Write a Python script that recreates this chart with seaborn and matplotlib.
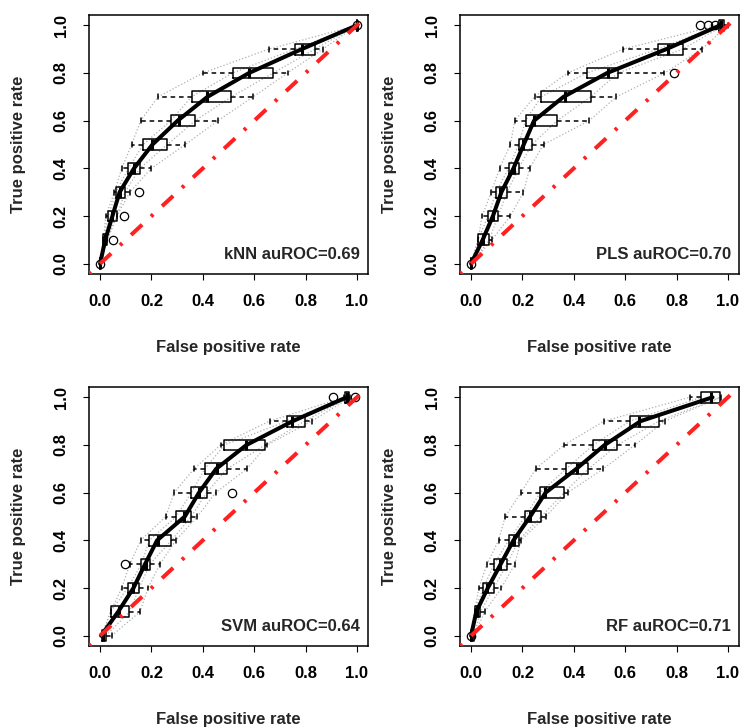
import numpy as np
import pandas as pd
import matplotlib
matplotlib.use("Agg")
import matplotlib.pyplot as plt
import seaborn as sns

sns.set_style("white")
plt.rcParams["font.family"] = ["Liberation Sans", "DejaVu Sans"]
plt.rcParams["font.weight"] = "bold"

levels = [0.0, 0.1, 0.2, 0.3, 0.4, 0.5, 0.6, 0.7, 0.8, 0.9, 1.0]
ticks = [0.0, 0.2, 0.4, 0.6, 0.8, 1.0]
tick_labels = ["0.0", "0.2", "0.4", "0.6", "0.8", "1.0"]
panel_titles = ["kNN auROC=0.69", "PLS auROC=0.70", "SVM auROC=0.64", "RF auROC=0.71"]

# kNN
knn_wlo = [0.0, 0.013, 0.022, 0.056, 0.084, 0.123, 0.158, 0.226, 0.400, 0.657, 1.0]
knn_q1 = [0.0, 0.013, 0.032, 0.062, 0.110, 0.168, 0.275, 0.356, 0.516, 0.757, 1.0]
knn_med = [0.0, 0.020, 0.045, 0.078, 0.133, 0.204, 0.308, 0.418, 0.580, 0.787, 1.0]
knn_q3 = [0.0, 0.028, 0.065, 0.097, 0.155, 0.262, 0.370, 0.511, 0.674, 0.836, 1.0]
knn_whi = [0.0, 0.028, 0.065, 0.116, 0.200, 0.332, 0.459, 0.596, 0.730, 0.867, 1.0]
knn_mean = [0.0, 0.020, 0.048, 0.076, 0.132, 0.204, 0.302, 0.418, 0.580, 0.785, 1.0]
knn_out_y = [0.0, 0.1, 0.2, 0.3, 1.0]
knn_out_x = [0.0, 0.049, 0.094, 0.152, 1.0]

# PLS
pls_wlo = [0.0, 0.027, 0.043, 0.078, 0.111, 0.153, 0.170, 0.247, 0.376, 0.592, 0.960]
pls_q1 = [0.0, 0.027, 0.066, 0.097, 0.146, 0.185, 0.212, 0.273, 0.450, 0.727, 0.965]
pls_med = [0.0, 0.047, 0.084, 0.114, 0.166, 0.204, 0.245, 0.366, 0.534, 0.766, 0.975]
pls_q3 = [0.0, 0.071, 0.105, 0.140, 0.185, 0.237, 0.335, 0.466, 0.572, 0.824, 0.985]
pls_whi = [0.0, 0.081, 0.153, 0.204, 0.228, 0.282, 0.460, 0.566, 0.753, 0.899, 1.0]
pls_mean = [0.0, 0.045, 0.085, 0.118, 0.165, 0.205, 0.245, 0.360, 0.530, 0.760, 0.970]
pls_out_y = [0.0, 0.8, 1.0, 1.0, 1.0]
pls_out_x = [0.0, 0.790, 0.891, 0.921, 0.950]

# SVM
svm_wlo = [0.006, 0.041, 0.084, 0.116, 0.158, 0.256, 0.288, 0.366, 0.469, 0.660, 0.950]
svm_q1 = [0.006, 0.041, 0.107, 0.161, 0.191, 0.297, 0.355, 0.408, 0.484, 0.727, 0.955]
svm_med = [0.012, 0.075, 0.129, 0.177, 0.226, 0.327, 0.385, 0.456, 0.570, 0.747, 0.962]
svm_q3 = [0.023, 0.114, 0.152, 0.194, 0.278, 0.355, 0.415, 0.495, 0.643, 0.796, 0.970]
svm_whi = [0.045, 0.155, 0.187, 0.233, 0.295, 0.379, 0.450, 0.572, 0.650, 0.824, 0.975]
svm_mean = [0.004, 0.070, 0.130, 0.175, 0.222, 0.330, 0.385, 0.452, 0.570, 0.750, 0.960]
svm_out_y = [0.3, 0.6, 1.0, 1.0]
svm_out_x = [0.097, 0.512, 0.906, 0.992]

# RF
rf_wlo = [0.0, 0.014, 0.030, 0.062, 0.107, 0.133, 0.194, 0.252, 0.362, 0.518, 0.851]
rf_q1 = [0.0, 0.014, 0.047, 0.090, 0.146, 0.211, 0.269, 0.370, 0.476, 0.618, 0.897]
rf_med = [0.0, 0.023, 0.062, 0.114, 0.166, 0.230, 0.288, 0.411, 0.521, 0.655, 0.934]
rf_q3 = [0.010, 0.036, 0.088, 0.140, 0.185, 0.273, 0.362, 0.457, 0.570, 0.731, 0.970]
rf_whi = [0.010, 0.053, 0.118, 0.170, 0.194, 0.291, 0.376, 0.515, 0.638, 0.754, 0.972]
rf_mean = [0.0, 0.020, 0.065, 0.115, 0.165, 0.230, 0.290, 0.410, 0.520, 0.660, 0.940]
rf_out_y = [0.0]
rf_out_x = [0.0]

panels = [
    (knn_wlo, knn_q1, knn_med, knn_q3, knn_whi, knn_mean, knn_out_y, knn_out_x),
    (pls_wlo, pls_q1, pls_med, pls_q3, pls_whi, pls_mean, pls_out_y, pls_out_x),
    (svm_wlo, svm_q1, svm_med, svm_q3, svm_whi, svm_mean, svm_out_y, svm_out_x),
    (rf_wlo, rf_q1, rf_med, rf_q3, rf_whi, rf_mean, rf_out_y, rf_out_x),
]

W, H = 742, 728
fig = plt.figure(figsize=(W / 100, H / 100), dpi=100)
fig.patch.set_facecolor("white")

ax_px = [(89, 15), (460, 15), (89, 387), (460, 387)]  # left, top in pixels
aw, ah = 279, 259

FS = 12

for (left, top), title, data in zip(ax_px, panel_titles, panels):
    wlo, q1, med, q3, whi, mean, out_y, out_x = data
    ax = fig.add_axes([left / W, 1 - (top + ah) / H, aw / W, ah / H])
    ax.set_facecolor("white")

    # spread of individual curves (grey dotted)
    rows = []
    for name, arr in [("wlo", wlo), ("q1", q1), ("med", med), ("q3", q3), ("whi", whi)]:
        for lv, v in zip(levels, arr):
            rows.append({"curve": name, "fpr": v, "tpr": lv})
    df = pd.DataFrame(rows)
    sns.lineplot(data=df, x="fpr", y="tpr", units="curve", estimator=None,
                 sort=False, color="#b0b0b0", lw=0.9, linestyle=":", ax=ax,
                 zorder=1)

    # boxplots at each TPR level
    stats = []
    for i, lv in enumerate(levels):
        fl = [x for y, x in zip(out_y, out_x) if y == lv]
        stats.append({"whislo": wlo[i], "q1": q1[i], "med": med[i],
                      "q3": q3[i], "whishi": whi[i], "fliers": fl})
    ax.bxp(stats, positions=levels, widths=0.045, orientation="horizontal",
           showfliers=True, manage_ticks=False, capwidths=0.02,
           boxprops=dict(color="black", lw=1.1),
           whiskerprops=dict(color="black", lw=1.1, linestyle=(0, (3, 2.5))),
           capprops=dict(color="black", lw=1.1),
           medianprops=dict(color="black", lw=2.2),
           flierprops=dict(marker="o", markersize=6, markerfacecolor="none",
                           markeredgecolor="black", markeredgewidth=0.9),
           zorder=3)

    # mean ROC curve
    sns.lineplot(x=mean, y=levels, sort=False, estimator=None, color="black",
                 lw=2.9, ax=ax, zorder=5)

    # chance diagonal
    ax.plot([-0.0432, 1.0432], [-0.0432, 1.0432], color="#ff2020", lw=2.9,
            linestyle=(0, (0.75, 3.0, 3.75, 3.0)), dash_capstyle="butt",
            zorder=6)

    ax.set_xlim(-0.0432, 1.0432)
    ax.set_ylim(-0.0432, 1.0432)
    ax.set_xticks(ticks)
    ax.set_yticks(ticks)
    ax.set_xticklabels(tick_labels, fontsize=FS, fontweight="bold")
    ax.set_yticklabels(tick_labels, fontsize=FS, fontweight="bold",
                       rotation=90, va="center")
    ax.tick_params(axis="both", direction="out", length=4.5, width=0.8,
                   pad=10, colors="black", bottom=True, left=True)
    for sp in ax.spines.values():
        sp.set_visible(True)
        sp.set_color("black")
        sp.set_linewidth(1.1)

    ax.set_xlabel("False positive rate", fontsize=FS, fontweight="bold")
    ax.set_ylabel("True positive rate", fontsize=FS, fontweight="bold")
    ax.xaxis.set_label_coords(0.5, -0.283)
    ax.yaxis.set_label_coords(-0.254, 0.5)
    ax.xaxis.label.set_va("center")
    ax.yaxis.label.set_va("center")

    ax.text(1.012, 0.038, title, ha="right", va="center", fontsize=FS,
            fontweight="bold", zorder=7)

fig.savefig("out.png", dpi=100, facecolor="white")
